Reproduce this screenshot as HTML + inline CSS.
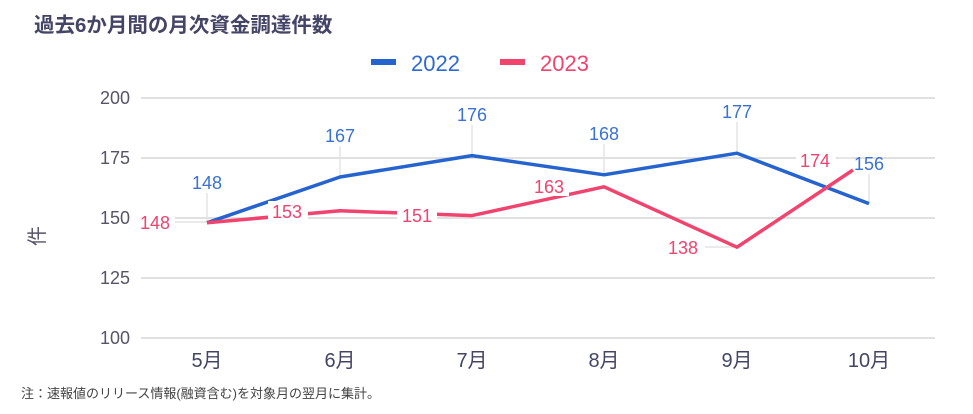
<!DOCTYPE html>
<html><head><meta charset="utf-8"><style>
body{margin:0;background:#fff;width:973px;height:409px;overflow:hidden;font-family:"Liberation Sans","Noto Sans CJK JP",sans-serif}
</style></head><body>
<svg width="973" height="409" xmlns="http://www.w3.org/2000/svg" font-family="Liberation Sans, Noto Sans CJK JP, sans-serif">
<text x="34" y="32" font-size="20.5" font-weight="bold" fill="#444466">過去6か月間の月次資金調達件数</text>
<rect x="371" y="59" width="25" height="6" fill="#2563cf"/>
<text x="411" y="71" font-size="22" fill="#2f6ad0">2022</text>
<rect x="500" y="59" width="25" height="6" fill="#f0436e"/>
<text x="540" y="71" font-size="22" fill="#f0436e">2023</text>
<g stroke="#d6d6d6" stroke-width="1.5">
<line x1="141" y1="98" x2="935" y2="98"/><line x1="141" y1="158" x2="935" y2="158"/><line x1="141" y1="218" x2="935" y2="218"/><line x1="141" y1="278" x2="935" y2="278"/><line x1="141" y1="338" x2="935" y2="338"/>
</g>
<g font-size="18" fill="#555566" text-anchor="end">
<text x="130" y="104">200</text><text x="130" y="164">175</text><text x="130" y="224">150</text><text x="130" y="284">125</text><text x="130" y="344">100</text>
</g>
<text x="44" y="236" font-size="20" fill="#555566" transform="rotate(-90 44 236)" text-anchor="middle">件</text>
<g font-size="20" fill="#444466" text-anchor="middle">
<text x="207" y="367">5月</text><text x="340" y="367">6月</text><text x="472" y="367">7月</text><text x="604" y="367">8月</text><text x="737" y="367">9月</text><text x="869" y="367">10月</text>
</g>
<g stroke="#e4e4e4" stroke-width="1.5">
<line x1="207" y1="193" x2="207" y2="222"/><line x1="340" y1="146" x2="340" y2="177"/><line x1="472" y1="125" x2="472" y2="155"/><line x1="604" y1="144" x2="604" y2="175"/><line x1="737" y1="122" x2="737" y2="153"/><line x1="869" y1="174" x2="869" y2="203"/>
<line x1="175" y1="222" x2="207" y2="222"/><line x1="705" y1="247" x2="737" y2="247"/><line x1="838" y1="158" x2="853" y2="158"/>
</g>
<polyline points="207,222.8 340,177 472,155.6 604,174.8 737,153.2 869,203.6" fill="none" stroke="#2563cf" stroke-width="3.5" stroke-linejoin="round"/>
<polyline points="207,222.8 340,210.8 472,215.6 604,186.8 737,247.2 853,170" fill="none" stroke="#f0436e" stroke-width="3.5" stroke-linejoin="round"/>
<g font-size="18" fill="#3a72d4" text-anchor="middle">
<text x="207" y="189">148</text><text x="340" y="142">167</text><text x="472" y="121">176</text><text x="604" y="140">168</text><text x="737" y="118">177</text><text x="869" y="170">156</text>
</g>
<g font-size="18" fill="#f0436e" text-anchor="middle">
<rect x="135" y="212" width="40" height="20" fill="#fff"/><text x="155" y="229">148</text>
<rect x="268" y="201" width="40" height="20" fill="#fff"/><text x="287" y="218">153</text>
<rect x="397" y="205" width="40" height="20" fill="#fff"/><text x="417" y="222">151</text>
<rect x="529" y="176" width="40" height="20" fill="#fff"/><text x="549" y="193">163</text>
<text x="683" y="254">138</text>
<rect x="796" y="150" width="40" height="20" fill="#fff"/><text x="815" y="167">174</text>
</g>
<text x="21" y="398" font-size="13" fill="#444">注：速報値のリリース情報(融資含む)を対象月の翌月に集計。</text>
</svg>
</body></html>
